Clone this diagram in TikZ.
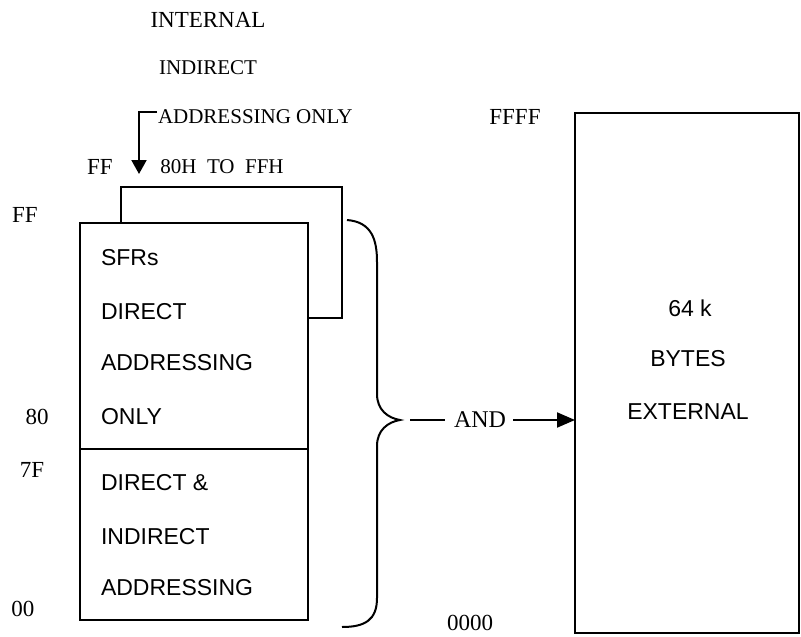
\documentclass[tikz,border=0pt]{standalone}
\usepackage{fontspec}
\setmainfont{Liberation Serif}
\setsansfont{Liberation Sans}
\usetikzlibrary{arrows.meta,positioning}

\tikzset{
  membox/.style={draw,line width=2pt,fill=white,inner sep=0pt,outer sep=0pt,anchor=north west},
  addr/.style={font=\fontsize{23}{25}\selectfont,inner sep=0pt},
  note/.style={font=\fontsize{21}{23}\selectfont,inner sep=0pt},
  cell/.style={font=\sffamily\fontsize{23}{25}\selectfont,inner sep=0pt},
}

\begin{document}
\begin{tikzpicture}[x=1pt,y=-1pt,line width=2pt]
    \useasboundingbox (0,0) rectangle (801,637);
    % internal RAM blocks
    \node[membox,minimum width=221pt,minimum height=131pt] (upper) at (121,187) {};
    \node[membox,minimum width=228pt,minimum height=226pt] (sfr) at (80,223) {};
    \node[membox,minimum width=228pt,minimum height=171pt] (lower) at (sfr.south west) {};
    \node[membox,minimum width=224pt,minimum height=520pt] (ext) at (575,113) {};

    \node[cell,anchor=west] (sfrA) at (100,258) {SFRs};
    \node[cell,anchor=west] (sfrB) at (100,312) {DIRECT};
    \node[cell,anchor=west] (sfrC) at (100,363) {ADDRESSING};
    \node[cell,anchor=west] (sfrD) at (100,417) {ONLY};
    \node[cell,anchor=west] (lowA) at (100,483) {DIRECT \&};
    \node[cell,anchor=west] (lowB) at (100,537) {INDIRECT};
    \node[cell,anchor=west] (lowC) at (100,588) {ADDRESSING};

    \node[cell] (extA) at (690,308) {64 k};
    \node[cell] (extB) at (688,359) {BYTES};
    \node[cell] (extC) at (688,412) {EXTERNAL};

    % addresses
    \node[addr] (ffL) at (25,215) {FF};
    \node[addr] (h80) at (37,417) {80};
    \node[addr] (h7f) at (32,470) {7F};
    \node[addr] (h00) at (23,609) {00};
    \node[addr] (ffT) at (100,167) {FF};
    \node[note] (range) at (222,167) {80H\ \ TO\ \ FFH};
    \node[addr] (ffff) at (515,117) {FFFF};
    \node[addr] (zero) at (470,623) {0000};

    % upper 128 note
    \node[addr] (internal) at (208,20) {INTERNAL};
    \node[note] (indirect) at (208,68) {INDIRECT};
    \node[note,anchor=west] (addronly) at (157,117) {ADDRESSING ONLY};
    \coordinate (drop) at (139,174);
    \draw[-{Triangle[length=14pt,width=15pt]}] ([yshift=5pt]addronly.west) -| (drop);

    % brace and link
    \coordinate (tip) at (400,420);
    \draw (347,220) .. controls (372,222) and (377,240) .. (377,262) -- (377,394)
      .. controls (377,410) and (388,418) .. (tip)
      .. controls (388,422) and (377,430) .. (377,446) -- (377,598)
      .. controls (377,620) and (365,627) .. (342,627);
    \node[addr,font=\fontsize{24}{26}\selectfont] (and) at (480,420) {AND};
    \draw ([xshift=10pt]tip) -- ([xshift=-8pt]and.west);
    \draw[-{Triangle[length=18pt,width=15pt]}] ([xshift=6pt]and.east) -- (ext.west |- and);
\end{tikzpicture}
\end{document}
